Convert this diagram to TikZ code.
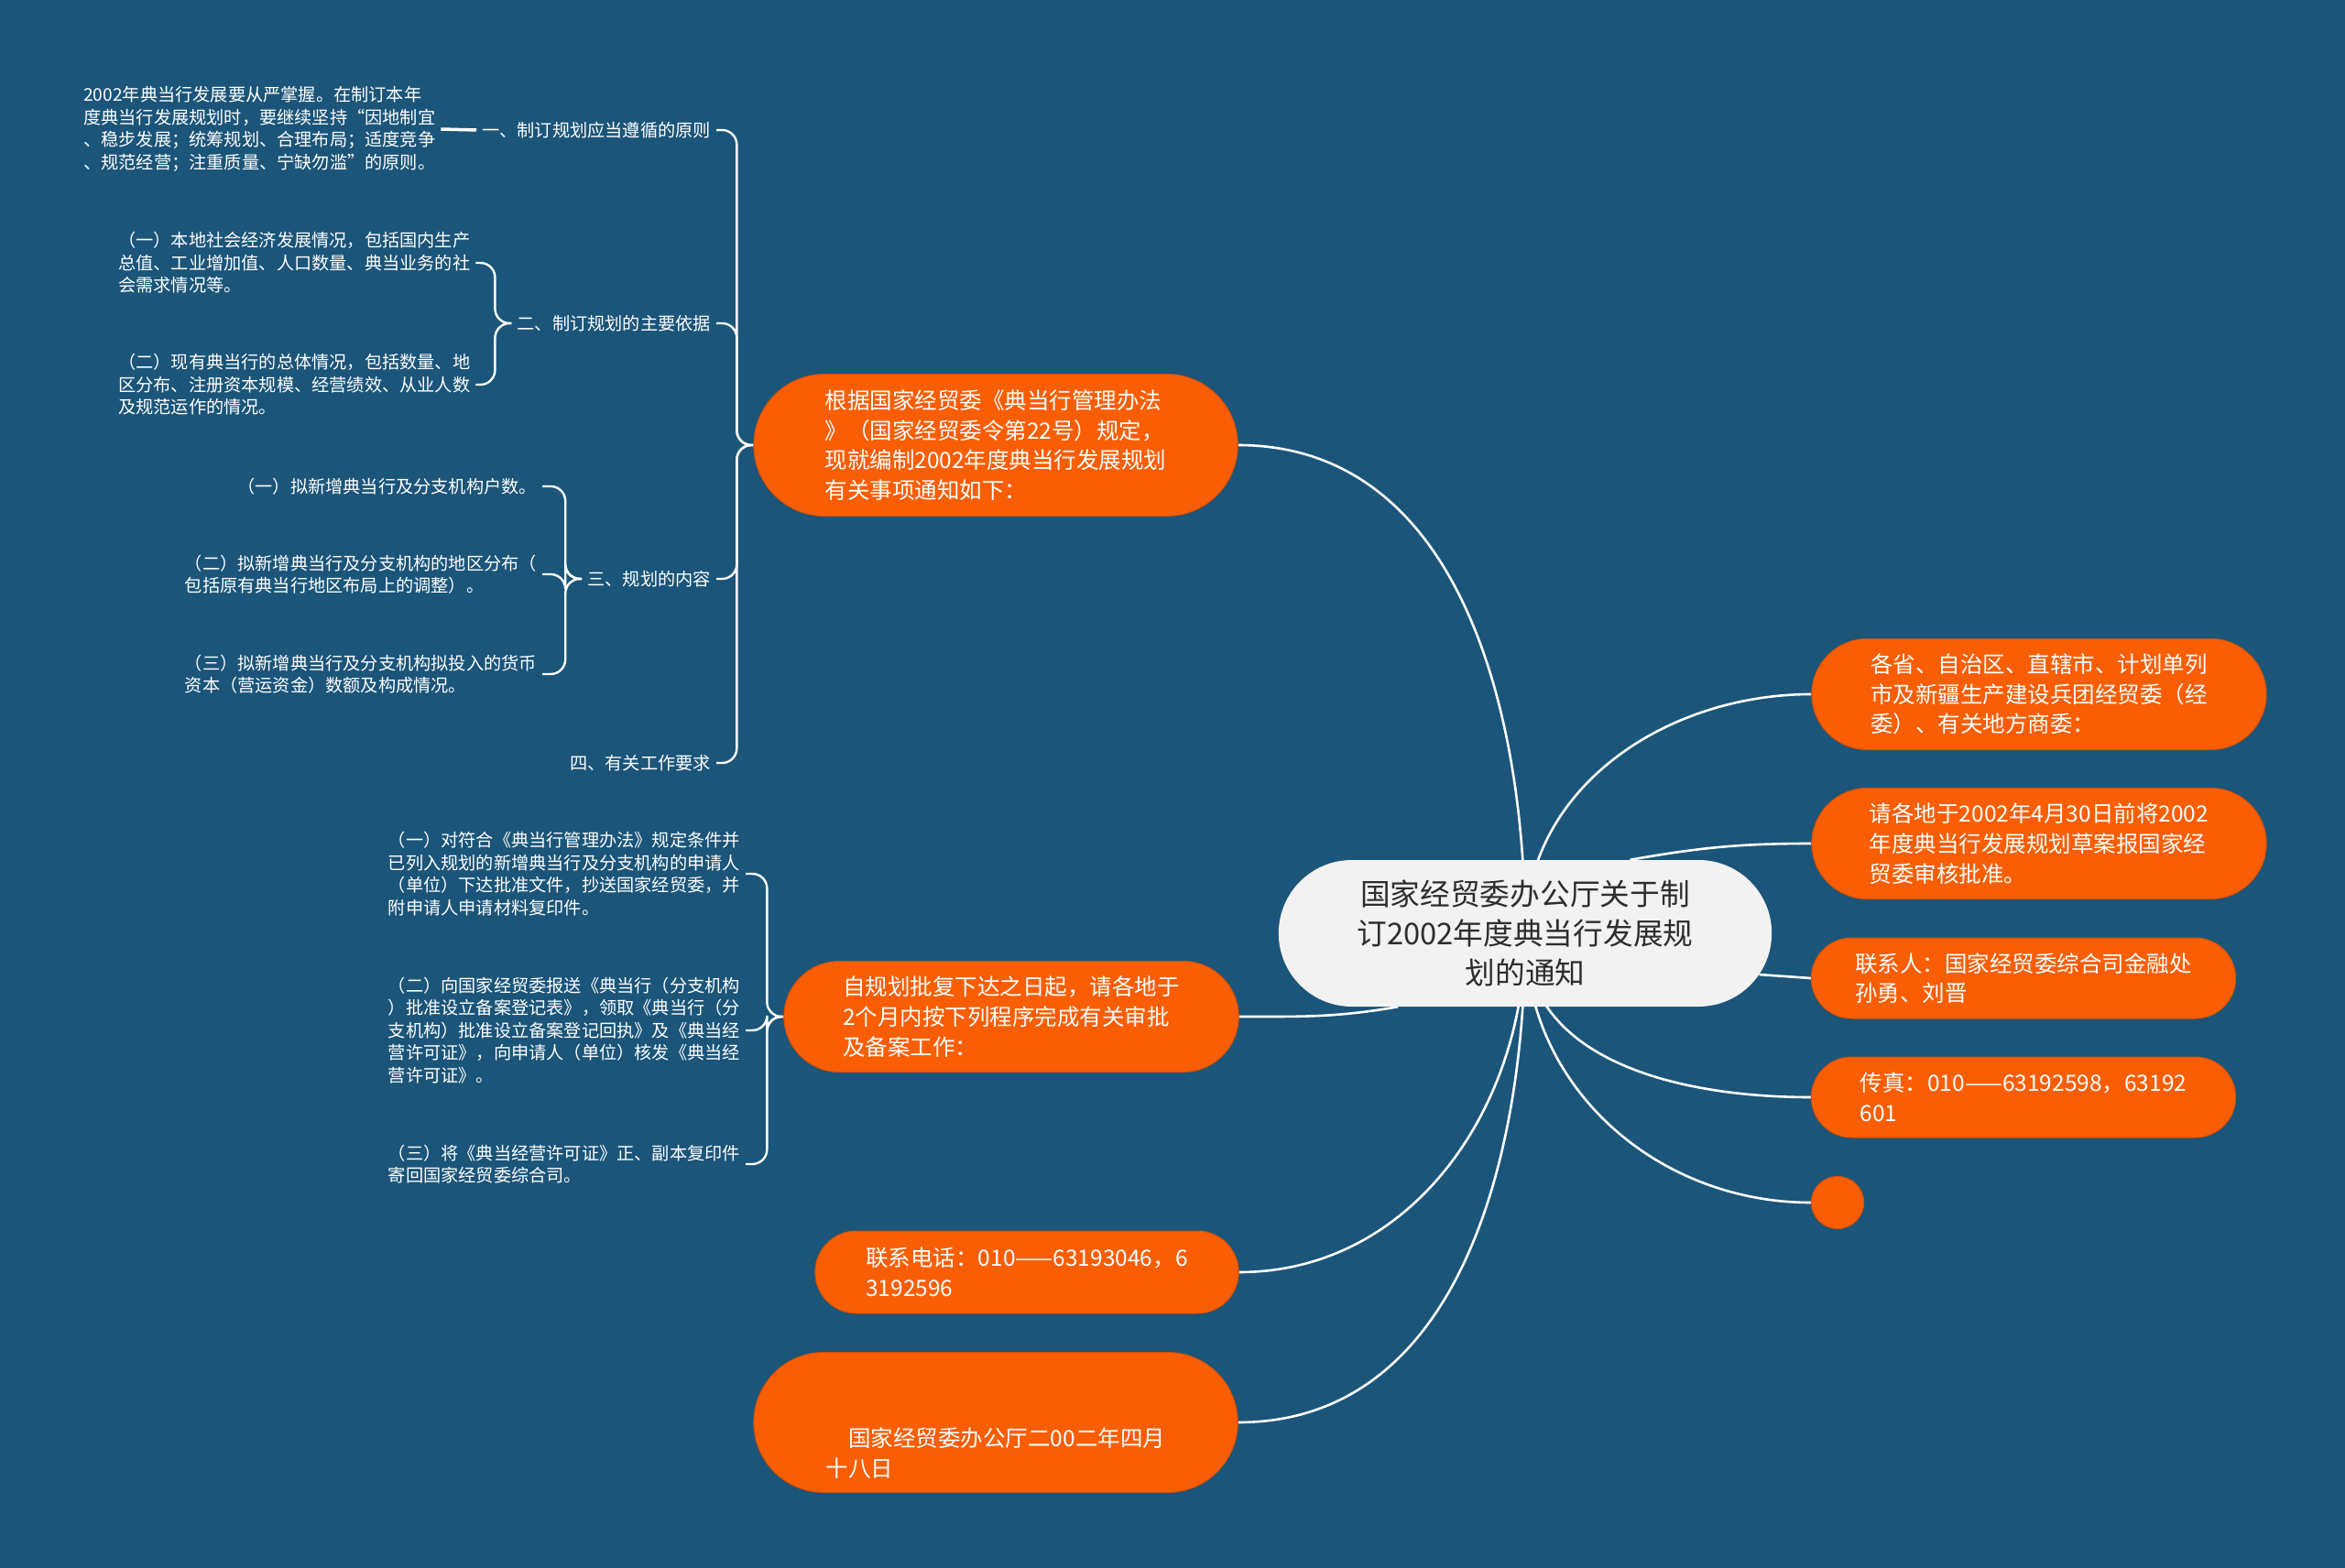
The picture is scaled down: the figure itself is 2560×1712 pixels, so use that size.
\documentclass[tikz,border=0pt]{standalone}
\usepackage{fontspec}
\setmainfont{Noto Sans CJK SC}
\usetikzlibrary{shapes.misc,backgrounds}
\pgfdeclarelayer{edges}
\pgfsetlayers{background,edges,main}
\definecolor{bgblue}{RGB}{27,85,121}
\definecolor{pillorange}{RGB}{249,94,5}
\definecolor{rootgray}{RGB}{242,242,242}
\definecolor{roottext}{RGB}{45,45,45}
\tikzset{
  root/.style={rounded rectangle, fill=rootgray, text=roottext, align=center,
    font=\fontsize{32.7}{43}\selectfont, minimum width=545, minimum height=160},
  pill/.style={rounded rectangle, fill=pillorange, draw=pillorange!85!black, line width=1,
    text=white, align=left, font=\fontsize{24.5}{32.7}\selectfont},
  topic/.style={text=white, inner xsep=6, inner ysep=2, font=\fontsize{19.2}{24.5}\selectfont},
  note/.style={topic, align=left},
  link/.style={draw=white, line width=2.6},
  brace/.style={link, line width=2.4,
    to path={[rounded corners=16] -- ++(-18,0) |- (\tikztotarget) \tikztonodes}},
}
\begin{document}
\begin{tikzpicture}[x=1pt,y=-1pt]
\begin{pgfonlayer}{background}
\fill[bgblue] (0,0) rectangle (2560,1712);
\end{pgfonlayer}
% centre and main branches
\node[root] (root) at (1665,1019) {国家经贸委办公厅关于制\\订2002年度典当行发展规\\划的通知};
\node[pill, minimum width=535, minimum height=155] (notice) at (1087,486)
  {根据国家经贸委《典当行管理办法\\》（国家经贸委令第22号）规定，\\现就编制2002年度典当行发展规划\\有关事项通知如下：};
\node[pill, minimum width=503, minimum height=121] (procedure) at (1104,1110)
  {自规划批复下达之日起，请各地于\\2个月内按下列程序完成有关审批\\及备案工作：};
\node[pill, minimum width=469, minimum height=90] (phone) at (1121,1389)
  {联系电话：010——63193046，6\\3192596};
\node[pill, minimum width=535, minimum height=153] (date) at (1087,1553)
  {\strut\\\strut\\\hspace{1em}国家经贸委办公厅二00二年四月\\十八日};
\node[pill, minimum width=503, minimum height=121] (recipients) at (2226,758)
  {各省、自治区、直辖市、计划单列\\市及新疆生产建设兵团经贸委（经\\委）、有关地方商委：};
\node[pill, minimum width=503, minimum height=121] (deadline) at (2226,921)
  {请各地于2002年4月30日前将2002\\年度典当行发展规划草案报国家经\\贸委审核批准。};
\node[pill, minimum width=470, minimum height=88] (contact) at (2209,1068)
  {联系人：国家经贸委综合司金融处\\孙勇、刘晋};
\node[pill, minimum width=470, minimum height=88] (fax) at (2209,1198)
  {传真：010——63192598，63192\\601};
\node[pill, minimum width=64, minimum height=57] (blank) at (2006,1313) {};
% topics of the notice
\node[topic, anchor=east] (principle) at (782,142) {一、制订规划应当遵循的原则};
\node[topic, anchor=east] (grounds) at (782,353) {二、制订规划的主要依据};
\node[topic, anchor=east] (content) at (782,632) {三、规划的内容};
\node[topic, anchor=east] (duty) at (782,833) {四、有关工作要求};
\node[note, anchor=west] (principleNote) at (85,141)
  {2002年典当行发展要从严掌握。在制订本年\\度典当行发展规划时，要继续坚持“因地制宜\\、稳步发展；统筹规划、合理布局；适度竞争\\、规范经营；注重质量、宁缺勿滥”的原则。};
\node[note, anchor=west] (groundsA) at (123,287)
  {（一）本地社会经济发展情况，包括国内生产\\总值、工业增加值、人口数量、典当业务的社\\会需求情况等。};
\node[note, anchor=west] (groundsB) at (123,420)
  {（二）现有典当行的总体情况，包括数量、地\\区分布、注册资本规模、经营绩效、从业人数\\及规范运作的情况。};
\node[note, anchor=east] (contentA) at (592,531) {（一）拟新增典当行及分支机构户数。};
\node[note, anchor=east] (contentB) at (592,627)
  {（二）拟新增典当行及分支机构的地区分布（\\包括原有典当行地区布局上的调整）。};
\node[note, anchor=east] (contentC) at (592,736)
  {（三）拟新增典当行及分支机构拟投入的货币\\资本（营运资金）数额及构成情况。};
% steps of the procedure
\node[note, anchor=east] (stepA) at (814,954)
  {（一）对符合《典当行管理办法》规定条件并\\已列入规划的新增典当行及分支机构的申请人\\（单位）下达批准文件，抄送国家经贸委，并\\附申请人申请材料复印件。};
\node[note, anchor=east] (stepB) at (814,1125)
  {（二）向国家经贸委报送《典当行（分支机构\\）批准设立备案登记表》，领取《典当行（分\\支机构）批准设立备案登记回执》及《典当经\\营许可证》，向申请人（单位）核发《典当经\\营许可证》。};
\node[note, anchor=east] (stepC) at (814,1271)
  {（三）将《典当经营许可证》正、副本复印件\\寄回国家经贸委综合司。};
\begin{pgfonlayer}{edges}
\draw[link] (root.center) to[out=90,in=0] (notice.east);
\draw[link] (root.210) to[out=190,in=0] (procedure.east);
\draw[link] (root.center) to[out=-90,in=0] (phone.east);
\draw[link] (root.center) to[out=-90,in=0] (date.east);
\draw[link] (root.center) to[out=90,in=180] (recipients.west);
\draw[link] (root.35) to[out=10,in=180] (deadline.west);
\draw[link] (root.-10) -- (contact.west);
\draw[link] (root.center) to[out=-90,in=180] (fax.west);
\draw[link] (root.center) to[out=-90,in=180] (blank.west);
\draw[link, line width=3.5] (principleNote.east) -- (principle.west);
\foreach \t in {principle,grounds,content,duty} \draw[brace] (notice.west) to (\t.east);
\foreach \t in {groundsA,groundsB} \draw[brace] (grounds.west) to (\t.east);
\foreach \t in {contentA,contentB,contentC} \draw[brace] (content.west) to (\t.east);
\foreach \t in {stepA,stepB,stepC} \draw[brace] (procedure.west) to (\t.east);
\end{pgfonlayer}
\end{tikzpicture}
\end{document}
